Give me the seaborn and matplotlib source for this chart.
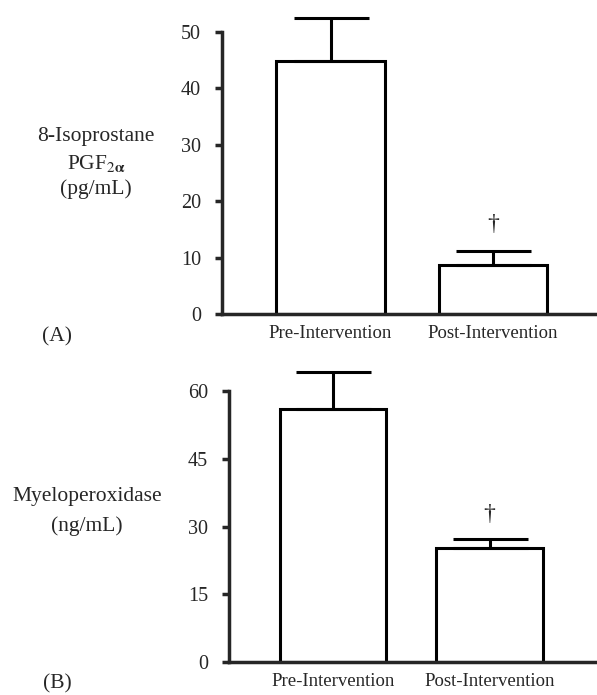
import matplotlib
matplotlib.use("Agg")
import matplotlib.pyplot as plt
import seaborn as sns
import pandas as pd

groups = ["Pre-Intervention", "Post-Intervention"]
isoprostane_mean = [44.8, 8.6]
isoprostane_sem = [7.6, 2.5]
mpo_mean = [56.1, 25.2]
mpo_sem = [8.1, 2.1]

sns.set_style("ticks")
plt.rcParams["font.family"] = ["Liberation Serif", "DejaVu Serif"]
plt.rcParams["mathtext.fontset"] = "stix"

W, H = 597, 695
fig = plt.figure(figsize=(W / 100, H / 100), dpi=100)


def px_axes(left, bottom, right, top):
    return fig.add_axes([left / W, 1 - bottom / H, (right - left) / W, (bottom - top) / H])


def panel(ax, means, sems, yticks, xlim, width, dagger_gap):
    df = pd.DataFrame({"group": groups, "value": means})
    sns.barplot(data=df, x="group", y="value", ax=ax, color="white",
                edgecolor="black", linewidth=2.2, width=width, errorbar=None,
                saturation=1)
    ax.errorbar(range(len(groups)), means, yerr=[[0] * len(sems), sems],
                fmt="none", ecolor="black", elinewidth=2.2, capsize=27,
                capthick=2.2, clip_on=False, zorder=5)
    ax.text(1, means[1] + sems[1] + dagger_gap, "†", ha="center", va="center",
            fontsize=17)
    ax.set_xlim(*xlim)
    ax.set_ylim(0, yticks[-1])
    ax.set_yticks(yticks)
    ax.set_xlabel("")
    ax.set_ylabel("")
    for s in ["top", "right"]:
        ax.spines[s].set_visible(False)
    for s in ["left", "bottom"]:
        ax.spines[s].set_linewidth(2.5)
    ax.tick_params(axis="y", length=5, width=2.5, labelsize=14.5, pad=10)
    ax.tick_params(axis="x", length=0, labelsize=13.5, pad=8)


ax_a = px_axes(222, 314, 597, 32)
panel(ax_a, isoprostane_mean, isoprostane_sem, [0, 10, 20, 30, 40, 50],
      (-0.668, 1.64), 0.67, 4.8)

ax_b = px_axes(229, 662, 597, 391)
panel(ax_b, mpo_mean, mpo_sem, [0, 15, 30, 45, 60],
      (-0.665, 1.687), 0.68, 5.3)

fig.text(96, H - 137, "8-Isoprostane", transform=None, ha="center", va="center", fontsize=15.5)
fig.text(96, H - 163, r"PGF$_{2\mathbf{\alpha}}$", transform=None, ha="center", va="center", fontsize=15.5)
fig.text(96, H - 189, "(pg/mL)", transform=None, ha="center", va="center", fontsize=15.5)
fig.text(87, H - 497, "Myeloperoxidase", transform=None, ha="center", va="center", fontsize=15.5)
fig.text(87, H - 526, "(ng/mL)", transform=None, ha="center", va="center", fontsize=15.5)
fig.text(57, H - 337, "(A)", transform=None, ha="center", va="center", fontsize=15.5)
fig.text(57, H - 684, "(B)", transform=None, ha="center", va="center", fontsize=15.5)

fig.savefig("out.png", dpi=100)
